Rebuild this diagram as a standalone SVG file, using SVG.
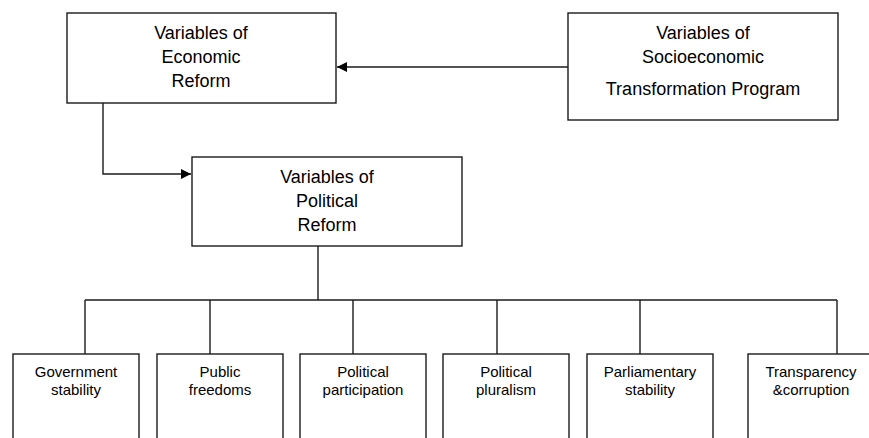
<svg xmlns="http://www.w3.org/2000/svg" width="869" height="438" viewBox="0 0 869 438">
<style>
.box{fill:#fff;stroke:#1a1a1a;stroke-width:1.4}
.t{font-family:"Liberation Sans",Arial,sans-serif;font-size:18px;fill:#000;text-anchor:middle}
.s{font-family:"Liberation Sans",Arial,sans-serif;font-size:15px;fill:#000;text-anchor:middle}
.ln{fill:none;stroke:#1a1a1a;stroke-width:1.4}
</style>
<defs>
<marker id="ah" viewBox="0 0 10 10" refX="10" refY="5" markerWidth="10" markerHeight="10" markerUnits="userSpaceOnUse" orient="auto">
<path d="M0,0 L10,5 L0,10 Z" fill="#000"/>
</marker>
</defs>
<rect width="869" height="438" fill="#fff"/>
<g id="connectors">
<line class="ln" x1="568" y1="67" x2="337" y2="67" marker-end="url(#ah)"/>
<polyline class="ln" points="103,103 103,174 191,174" marker-end="url(#ah)"/>
<line class="ln" x1="318" y1="246" x2="318" y2="300"/>
<line class="ln" x1="85" y1="300" x2="837" y2="300"/>
<line class="ln" x1="85" y1="300" x2="85" y2="354"/>
<line class="ln" x1="210" y1="300" x2="210" y2="354"/>
<line class="ln" x1="353" y1="300" x2="353" y2="354"/>
<line class="ln" x1="497" y1="300" x2="497" y2="354"/>
<line class="ln" x1="640" y1="300" x2="640" y2="354"/>
<line class="ln" x1="837" y1="300" x2="837" y2="354"/>
</g>
<g id="economic">
<rect class="box" x="67" y="13" width="269" height="90"/>
<text class="t" x="201" y="39">Variables of</text>
<text class="t" x="201" y="63">Economic</text>
<text class="t" x="201" y="87">Reform</text>
</g>
<g id="socioeconomic">
<rect class="box" x="568" y="13" width="270" height="107"/>
<text class="t" x="703" y="39">Variables of</text>
<text class="t" x="703" y="63">Socioeconomic</text>
<text class="t" x="703" y="95">Transformation Program</text>
</g>
<g id="political">
<rect class="box" x="192" y="157" width="270" height="89"/>
<text class="t" x="327" y="183">Variables of</text>
<text class="t" x="327" y="207">Political</text>
<text class="t" x="327" y="231">Reform</text>
</g>
<g id="government">
<rect class="box" x="13" y="354" width="126" height="100"/>
<text class="s" x="76" y="377">Government</text>
<text class="s" x="76" y="395">stability</text>
</g>
<g id="freedoms">
<rect class="box" x="157" y="354" width="126" height="100"/>
<text class="s" x="220" y="377">Public</text>
<text class="s" x="220" y="395">freedoms</text>
</g>
<g id="participation">
<rect class="box" x="300" y="354" width="126" height="100"/>
<text class="s" x="363" y="377">Political</text>
<text class="s" x="363" y="395">participation</text>
</g>
<g id="pluralism">
<rect class="box" x="443" y="354" width="126" height="100"/>
<text class="s" x="506" y="377">Political</text>
<text class="s" x="506" y="395">pluralism</text>
</g>
<g id="parliamentary">
<rect class="box" x="587" y="354" width="126" height="100"/>
<text class="s" x="650" y="377">Parliamentary</text>
<text class="s" x="650" y="395">stability</text>
</g>
<g id="transparency">
<rect class="box" x="748" y="354" width="126" height="100"/>
<text class="s" x="811" y="377">Transparency</text>
<text class="s" x="811" y="395">&amp;corruption</text>
</g>
</svg>
